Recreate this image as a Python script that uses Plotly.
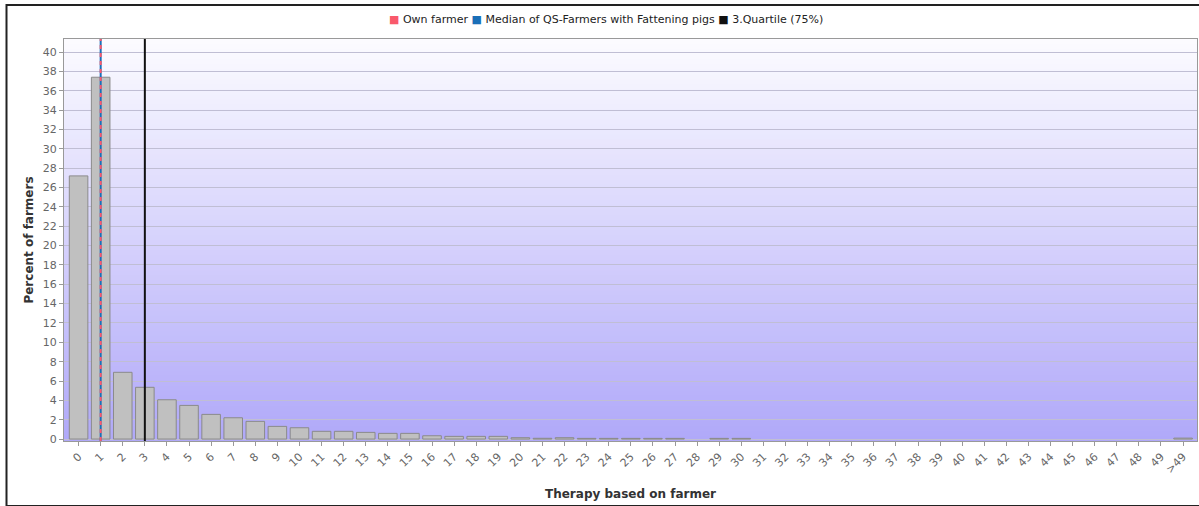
import plotly.graph_objects as go

# Distribution of therapy counts per farmer
categories = [str(i) for i in range(50)] + [">49"]
percent_of_farmers = [
    27.2, 37.4, 6.9, 5.35, 4.06, 3.48, 2.55, 2.2, 1.83, 1.31,
    1.17, 0.8, 0.8, 0.69, 0.59, 0.59, 0.34, 0.28, 0.28, 0.28,
    0.14, 0.08, 0.14, 0.07, 0.07, 0.07, 0.07, 0.07, 0.0, 0.07,
    0.07, 0.0, 0.0, 0.0, 0.0, 0.0, 0.0, 0.0, 0.0, 0.0,
    0.0, 0.0, 0.0, 0.0, 0.0, 0.0, 0.0, 0.0, 0.0, 0.0,
    0.1,
]

own_farmer = "1"
median_value = "1"
quartile_75 = "3"

legend_names = ["Own farmer", "Median of QS-Farmers with Fattening pigs", "3.Quartile (75%)"]
legend_colors = ["#f9596b", "#1a6fb8", "#111111"]

font_family = "DejaVu Sans, Verdana, sans-serif"

fig = go.Figure()

# empty categories get no outline so nothing is drawn for them
outline_widths = [1 if v > 0 else 0 for v in percent_of_farmers]

fig.add_trace(go.Bar(
    x=categories,
    y=percent_of_farmers,
    width=0.84,
    marker=dict(color="#c0c0c0", line=dict(color="#8a8a8a", width=outline_widths)),
    showlegend=False,
    hoverinfo="x+y",
))

shapes = []
# vertical gradient backdrop of the plotting area (white at top, lavender at bottom)
n_steps = 80
top_rgb = (252, 252, 255)
bot_rgb = (176, 168, 249)
for k in range(n_steps):
    t = (k + 0.5) / n_steps
    r = round(bot_rgb[0] + (top_rgb[0] - bot_rgb[0]) * t)
    g = round(bot_rgb[1] + (top_rgb[1] - bot_rgb[1]) * t)
    b = round(bot_rgb[2] + (top_rgb[2] - bot_rgb[2]) * t)
    shapes.append(dict(
        type="rect", xref="x domain", yref="y domain",
        x0=0, x1=1, y0=k / n_steps, y1=(k + 1) / n_steps + 0.002,
        fillcolor=f"rgb({r},{g},{b})", line=dict(width=0), layer="below",
    ))

# median marker (blue) with own-farmer marker (red dashes) on top
shapes.append(dict(type="line", xref="x", yref="y domain", x0=median_value, x1=median_value,
                   y0=0, y1=1, line=dict(color=legend_colors[1], width=2)))
shapes.append(dict(type="line", xref="x", yref="y domain", x0=own_farmer, x1=own_farmer,
                   y0=0, y1=1, line=dict(color=legend_colors[0], width=2, dash="4px,4px")))
# 75% quartile marker
shapes.append(dict(type="line", xref="x", yref="y domain", x0=quartile_75, x1=quartile_75,
                   y0=0, y1=1, line=dict(color=legend_colors[2], width=2)))
# outer frame
shapes.append(dict(type="rect", xref="paper", yref="paper",
                   x0=-57.5 / 1133, x1=1.2, y0=-65 / 402, y1=1 + 34 / 402,
                   line=dict(color="#222222", width=2), fillcolor="rgba(0,0,0,0)", layer="below"))

# legend row drawn as text with coloured squares
legend_text = " ".join(
    f"<span style='color:{c}'>■</span> {n}" for n, c in zip(legend_names, legend_colors)
)

fig.update_layout(
    width=1199,
    height=506,
    margin=dict(l=64, r=2, t=39, b=65),
    paper_bgcolor="white",
    plot_bgcolor="rgba(0,0,0,0)",
    font=dict(family=font_family, size=11, color="#444444"),
    shapes=shapes,
    showlegend=False,
    annotations=[dict(
        text=legend_text, xref="paper", yref="paper",
        x=(606 - 64) / 1133, y=1 + 20 / 402, xanchor="center", yanchor="middle",
        showarrow=False, font=dict(size=11, color="#222222"),
    )],
    xaxis=dict(
        type="category",
        range=[-0.66, 50.63],
        tickangle=-45,
        ticks="outside", ticklen=4, tickcolor="#999999",
        showgrid=False,
        showline=True, linecolor="#999999", linewidth=1, mirror=True,
        tickfont=dict(size=11, color="#666666"),
        title=dict(text="<b>Therapy based on farmer</b>", font=dict(size=12, color="#333333"), standoff=14),
    ),
    yaxis=dict(
        range=[-0.2, 41.35],
        tickmode="linear", tick0=0, dtick=2,
        ticks="outside", ticklen=4, tickcolor="#999999",
        showgrid=True, gridcolor="#c0bed4", gridwidth=1,
        zeroline=False,
        showline=True, linecolor="#999999", linewidth=1, mirror=True,
        tickfont=dict(size=11, color="#666666"),
        title=dict(text="<b>Percent of farmers</b>", font=dict(size=12, color="#333333"), standoff=6),
    ),
)

fig.write_html("out.html")
